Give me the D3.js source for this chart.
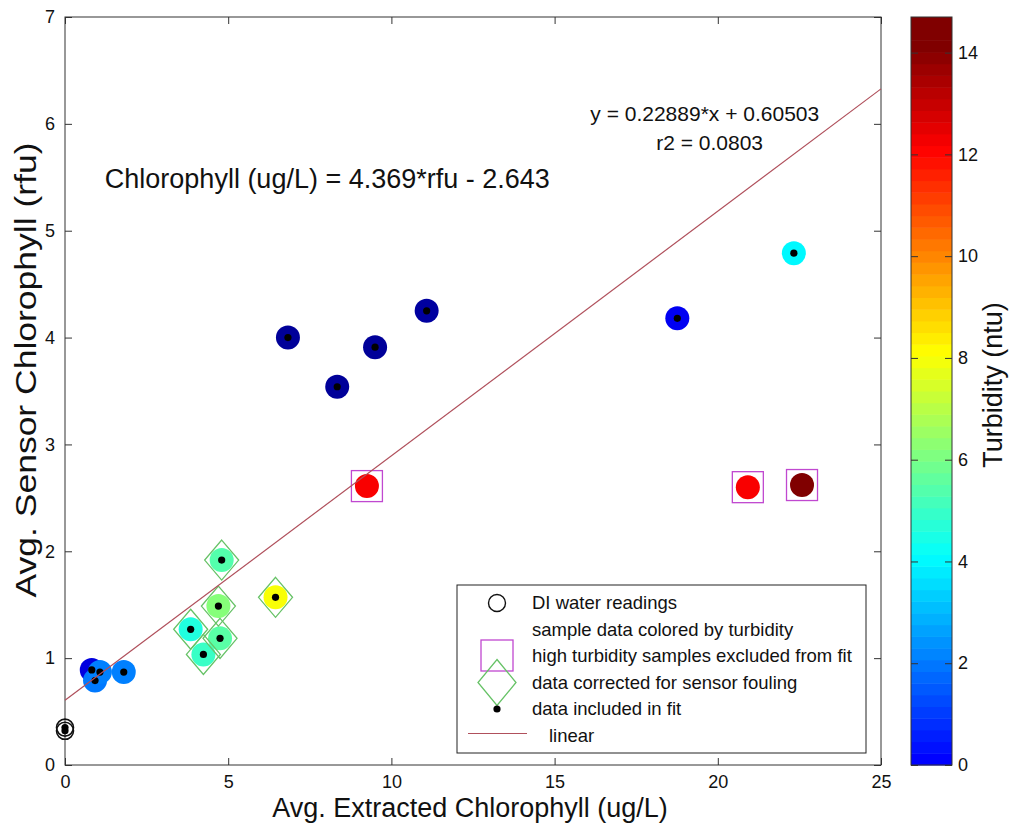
<!DOCTYPE html>
<html>
<head>
<meta charset="utf-8">
<title>Sensor vs extracted chlorophyll</title>
<script src="https://cdnjs.cloudflare.com/ajax/libs/d3/7.8.5/d3.min.js"></script>
<style>
  body { margin: 0; background: #fff; }
  svg text { font-family: "Liberation Sans", Arial, Helvetica, sans-serif; fill: #111; }
  .axis path { display: none; }
  .axis line { stroke: #333; }
</style>
</head>
<body>
<div id="chart"></div>
<script>
// DI water readings
var diExtracted = [0, 0];
var diSensor = [0.32, 0.35];

// samples (ug/L, rfu, ntu)
var extracted = [0.82, 0.92, 1.07, 1.80, 3.85, 4.24, 4.70, 4.75, 4.80, 6.45, 6.83, 8.34, 9.50, 11.08, 9.25, 18.76, 20.92, 22.33, 22.58];
var sensor    = [0.89, 0.79, 0.87, 0.87, 1.27, 1.035, 1.487, 1.185, 1.918, 1.569, 4.00, 3.54, 3.91, 4.25, 2.61, 4.18, 2.60, 4.79, 2.62];
var turbidity = [-0.4, 2.0, 2.1, 2.1, 4.6, 5.0, 6.2, 5.5, 5.4, 8.0, -1.5, -1.5, -1.5, -1.4, 12.2, -0.1, 12.2, 4.0, 14.6];
var excluded  = [0, 0, 0, 0, 0, 0, 0, 0, 0, 0, 0, 0, 0, 0, 1, 0, 1, 0, 1];
var corrected = [0, 0, 0, 0, 1, 1, 1, 1, 1, 1, 0, 0, 0, 0, 0, 0, 0, 0, 0];

var fitSlope = 0.22889, fitIntercept = 0.60503;
var xTicks = [0, 5, 10, 15, 20, 25];
var yTicks = [0, 1, 2, 3, 4, 5, 6, 7];
var cTicks = [0, 2, 4, 6, 8, 10, 12, 14];
var cMax = 14.7;
var jetStops  = [-1.9, 0.1, 4.1, 8.1, 12.1, 14.1];
var jetColors = ["#000080", "#0000ff", "#00ffff", "#ffff00", "#ff0000", "#800000"];
var legendLabels = ["DI water readings", "sample data colored by turbidity",
  "high turbidity samples excluded from fit", "data corrected for sensor fouling",
  "data included in fit", "linear"];

var margin = {top: 17, left: 65},
    width = 816,
    height = 748;

var svg = d3.select("#chart").append("svg")
    .attr("width", 1011)
    .attr("height", 827);

var g = svg.append("g")
    .attr("transform", "translate(" + margin.left + "," + margin.top + ")");

var x = d3.scaleLinear().domain([0, 25]).range([0, width]);
var y = d3.scaleLinear().domain([0, 7]).range([height, 0]);
var color = d3.scaleLinear().domain(jetStops).range(jetColors).clamp(true);
var plain = d => d;

// axes, ticks inward on all four sides
g.append("g").attr("class", "axis")
    .attr("transform", "translate(0," + height + ")")
    .call(d3.axisBottom(x).tickValues(xTicks).tickFormat(plain).tickSizeInner(-7).tickSizeOuter(0).tickPadding(10))
    .selectAll("text").style("font-size", "18px");
g.append("g").attr("class", "axis")
    .call(d3.axisTop(x).tickValues(xTicks).tickSizeInner(-7).tickSizeOuter(0).tickFormat(""));
g.append("g").attr("class", "axis")
    .call(d3.axisLeft(y).tickValues(yTicks).tickFormat(plain).tickSizeInner(-7).tickSizeOuter(0).tickPadding(10))
    .selectAll("text").style("font-size", "18px");
g.append("g").attr("class", "axis")
    .attr("transform", "translate(" + width + ",0)")
    .call(d3.axisRight(y).tickValues(yTicks).tickSizeInner(-7).tickSizeOuter(0).tickFormat(""));
g.selectAll(".axis text").attr("fill", "#111");

g.append("rect")
    .attr("width", width).attr("height", height)
    .attr("fill", "none").attr("stroke", "#333");

var idx = d3.range(extracted.length);

// samples coloured by turbidity
g.append("g").selectAll("circle")
    .data(idx).enter().append("circle")
    .attr("cx", i => x(extracted[i]))
    .attr("cy", i => y(sensor[i]))
    .attr("r", 12)
    .attr("fill", i => color(turbidity[i]));

// excluded squares
g.append("g").selectAll("rect")
    .data(idx.filter(i => excluded[i])).enter().append("rect")
    .attr("x", i => x(extracted[i]) - 15.5)
    .attr("y", i => y(sensor[i]) - 15.5)
    .attr("width", 31).attr("height", 31)
    .attr("fill", "none").attr("stroke", "#c048d0").attr("stroke-width", 1.3);

// fouling-corrected diamonds
var diamond = function (cx, cy, w, h) {
  return "M" + cx + "," + (cy - h) + "L" + (cx + w) + "," + cy + "L" + cx + "," + (cy + h) + "L" + (cx - w) + "," + cy + "Z";
};
g.append("g").selectAll("path")
    .data(idx.filter(i => corrected[i])).enter().append("path")
    .attr("d", i => diamond(x(extracted[i]), y(sensor[i]), 17, 20))
    .attr("fill", "none").attr("stroke", "#66c266").attr("stroke-width", 1.3);

// DI water
g.append("g").selectAll("circle")
    .data(diSensor).enter().append("circle")
    .attr("cx", (d, i) => x(diExtracted[i]))
    .attr("cy", d => y(d))
    .attr("r", 8.5)
    .attr("fill", "none").attr("stroke", "#111").attr("stroke-width", 1.6);

// points in fit
var fitIdx = idx.filter(i => !excluded[i]);
g.append("g").selectAll("circle")
    .data(fitIdx.map(i => [extracted[i], sensor[i]]).concat(diSensor.map((d, i) => [diExtracted[i], d])))
    .enter().append("circle")
    .attr("cx", d => x(d[0]))
    .attr("cy", d => y(d[1]))
    .attr("r", 3.6)
    .attr("fill", "#000");

// linear fit
g.append("line")
    .attr("x1", x(0)).attr("y1", y(fitIntercept))
    .attr("x2", x(25)).attr("y2", y(fitIntercept + fitSlope * 25))
    .attr("stroke", "#b0505c").attr("stroke-width", 1.2);

// annotations
g.append("text")
    .attr("x", x(19.6)).attr("y", y(6.03))
    .attr("text-anchor", "middle")
    .style("font-size", "21px")
    .text("y = " + fitSlope + "*x + " + fitIntercept);
g.append("text")
    .attr("x", x(19.75)).attr("y", y(5.76))
    .attr("text-anchor", "middle")
    .style("font-size", "21px")
    .text("r2 = 0.0803");
g.append("text")
    .attr("x", x(1.22)).attr("y", y(5.4))
    .style("font-size", "27px")
    .text("Chlorophyll (ug/L) = 4.369*rfu - 2.643");

// axis labels
svg.append("text")
    .attr("x", 470).attr("y", 817)
    .attr("text-anchor", "middle")
    .style("font-size", "27px")
    .text("Avg. Extracted Chlorophyll (ug/L)");
svg.append("text")
    .attr("transform", "translate(26,370) rotate(-90)")
    .attr("dy", "0.35em")
    .attr("text-anchor", "middle")
    .attr("textLength", 455)
    .attr("lengthAdjust", "spacingAndGlyphs")
    .style("font-size", "29px")
    .text("Avg. Sensor Chlorophyll (rfu)");

// legend
var leg = svg.append("g").attr("transform", "translate(457,585)");
leg.append("rect")
    .attr("width", 409).attr("height", 168)
    .attr("fill", "#fff").attr("stroke", "#222");
var rowY = function (k) { return 18 + k * 26.5; };
leg.append("circle").attr("cx", 40).attr("cy", rowY(0)).attr("r", 8.5)
    .attr("fill", "none").attr("stroke", "#111").attr("stroke-width", 1.4);
leg.append("rect").attr("x", 24).attr("y", rowY(2) - 16).attr("width", 32).attr("height", 31)
    .attr("fill", "none").attr("stroke", "#c048d0").attr("stroke-width", 1.3);
leg.append("path").attr("d", diamond(40, rowY(3), 19, 23))
    .attr("fill", "none").attr("stroke", "#66c266").attr("stroke-width", 1.3);
leg.append("circle").attr("cx", 40).attr("cy", rowY(4)).attr("r", 3.6).attr("fill", "#000");
leg.append("line").attr("x1", 11).attr("x2", 70).attr("y1", rowY(5) - 2).attr("y2", rowY(5) - 2)
    .attr("stroke", "#b0505c").attr("stroke-width", 1.2);
leg.selectAll("text.lab")
    .data(legendLabels).enter().append("text")
    .attr("class", "lab")
    .attr("x", (d, k) => k === 5 ? 92 : 75)
    .attr("y", (d, k) => rowY(k))
    .attr("dy", "0.35em")
    .style("font-size", "18.5px")
    .text(d => d);

// colorbar
var cb = svg.append("g").attr("transform", "translate(911,17)");
var cbW = 41;
var cy = d3.scaleLinear().domain([0, cMax]).range([height, 0]);
var bands = d3.range(64).map(k => cMax * k / 64);
cb.selectAll("rect.band")
    .data(bands).enter().append("rect")
    .attr("class", "band")
    .attr("x", 0).attr("width", cbW)
    .attr("y", d => cy(d + cMax / 64))
    .attr("height", d => cy(d) - cy(d + cMax / 64) + 0.5)
    .attr("fill", d => color(d + cMax / 128));
cb.append("rect").attr("width", cbW).attr("height", height)
    .attr("fill", "none").attr("stroke", "#333");
cb.append("g").attr("class", "axis")
    .attr("transform", "translate(" + cbW + ",0)")
    .call(d3.axisRight(cy).tickValues(cTicks).tickSizeInner(-7).tickSizeOuter(0).tickPadding(6))
    .selectAll("text").style("font-size", "18px").attr("fill", "#111");
cb.append("g").attr("class", "axis")
    .call(d3.axisLeft(cy).tickValues(cTicks).tickSizeInner(-7).tickSizeOuter(0).tickFormat(""));
svg.append("text")
    .attr("transform", "translate(993,385) rotate(-90)")
    .attr("dy", "0.35em")
    .attr("text-anchor", "middle")
    .style("font-size", "27px")
    .text("Turbidity (ntu)");
</script>
</body>
</html>
